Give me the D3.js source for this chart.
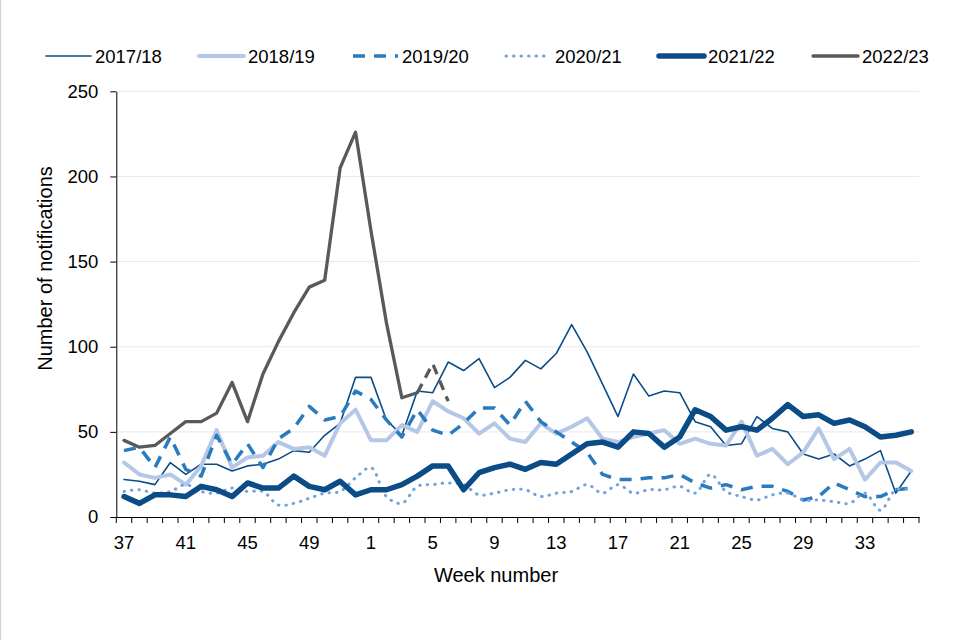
<!DOCTYPE html>
<html><head><meta charset="utf-8">
<script src="https://cdn.jsdelivr.net/npm/d3@7"></script>
<style>
body{margin:0;background:#fff}
svg{display:block}
text{font-family:"Liberation Sans",Arial,sans-serif;fill:#000}
</style></head>
<body><svg id="c" width="960" height="640"></svg>
<script>
const weeks = ["37","38","39","40","41","42","43","44","45","46","47","48","49","50","51","52",
  "1","2","3","4","5","6","7","8","9","10","11","12","13","14","15","16","17","18","19","20",
  "21","22","23","24","25","26","27","28","29","30","31","32","33","34","35","36"];
const xTickLabels = ["37","41","45","49","1","5","9","13","17","21","25","29","33"];
const yTicks = [0,50,100,150,200,250];
const seriesNames = ["2017/18","2018/19","2019/20","2020/21","2021/22","2022/23"];

const s1718 = [22,21,19,32,25,31,31,27,30,31,34,39,38,48,55,82,82,57,48,74,73,91,86,93,76,82,92,87,96,113,97,78,59,84,71,74,73,56,53,42,43,59,52,50,37,34,37,30,34,39,14,27];
const s1819 = [32,25,23,25,19,30,51,29,35,36,44,40,41,36,55,63,45,45,54,50,68,62,58,49,55,46,44,55,49,53,58,46,44,47,49,51,43,46,43,42,56,36,40,31,38,52,34,40,22,32,32,27];
const s1920 = [39,41,29,47,28,24,48,31,43,29,46,52,65,57,59,74,69,57,47,63,51,48,55,64,64,54,68,56,50,44,38,25,22,22,23,23,25,20,17,19,16,18,18,15,10,12,20,16,12,12,16,17];
const s2021 = [15,16,14,15,19,15,14,17,15,15,7,8,11,14,15,23,29,12,8,18,19,20,19,13,14,16,16,12,14,15,19,14,19,14,16,16,18,14,25,15,12,10,13,14,10,10,9,8,14,4,16,16];
const s2122 = [12,8,13,13,12,18,16,12,20,17,17,24,18,16,21,13,16,16,19,24,30,30,16,26,29,31,28,32,31,37,43,44,41,50,49,41,47,63,59,51,53,51,58,66,59,60,55,57,53,47,48,50];
const s2223 = [45,41,42,49,56,56,61,79,56,84,103,120,135,139,205,226,168,114,70,73,90,68];
const s2223SolidEnd = 19; // last solid index, provisional after that

const styles = [
  {color:"#0b4c86", width:1.6, dash:null, cap:"round"},
  {color:"#b4c7e7", width:4, dash:null, cap:"round"},
  {color:"#2a7abe", width:3.5, dash:"12 9", cap:"butt"},
  {color:"#6fa4dd", width:3, dash:"0.5 7", cap:"round", smooth:true},
  {color:"#0b4c86", width:5.5, dash:null, cap:"round"},
  {color:"#595959", width:3.3, dash:null, cap:"round"}
];
const allSeries = [s1718, s1819, s1920, s2021, s2122];

const svg = d3.select("#c");
const x = d3.scaleBand().domain(weeks).range([116.3, 919]).padding(0);
const y = d3.scaleLinear().domain([0,250]).range([517, 91.3]);
const cx = w => x(w) + x.bandwidth()/2;

svg.append("line").attr("x1",0.5).attr("x2",0.5).attr("y1",0).attr("y2",640)
  .attr("stroke","#d4d4d4").attr("stroke-width",1.5);

svg.append("g").selectAll("line").data(yTicks.filter(v=>v>0)).join("line")
  .attr("x1",x.range()[0]).attr("x2",x.range()[1])
  .attr("y1",d=>y(d)).attr("y2",d=>y(d))
  .attr("stroke","#e9e9e9").attr("stroke-width",1);

const ya = svg.append("g").attr("transform","translate(116.3,0)")
  .call(d3.axisLeft(y).tickValues(yTicks).tickSize(6).tickSizeOuter(0).tickPadding(12));
ya.attr("font-family",null).attr("font-size",null);
ya.selectAll("text").style("font-size","18.5px");
ya.selectAll("line,path").attr("stroke","#000");

const xa = svg.append("g").attr("transform","translate(0,517)")
  .call(d3.axisBottom(x).tickValues(xTickLabels).tickSize(0).tickSizeOuter(0).tickPadding(19));
xa.attr("font-family",null).attr("font-size",null);
xa.selectAll("text").style("font-size","18.5px");
xa.select("path").attr("stroke","#000");
const bounds = weeks.map(w=>x(w)).concat([x.range()[1]]);
xa.append("g").selectAll("line").data(bounds).join("line")
  .attr("x1",d=>d).attr("x2",d=>d).attr("y1",0).attr("y2",6).attr("stroke","#000");

const plot = svg.append("g").attr("fill","none").attr("stroke-linejoin","round");
function draw(vals, st, offset, dashOverride){
  const gen = d3.line().x((d,i)=>cx(weeks[i+offset])).y(d=>y(d));
  if(st.smooth) gen.curve(d3.curveCatmullRom.alpha(0.5));
  const p = plot.append("path").attr("d",gen(vals))
    .attr("stroke",st.color).attr("stroke-width",st.width)
    .attr("stroke-linecap",st.cap);
  const dsh = dashOverride || st.dash;
  if(dsh) p.attr("stroke-dasharray",dsh);
}
allSeries.forEach((s,i)=>draw(s, styles[i], 0));
draw(s2223.slice(0, s2223SolidEnd+1), styles[5], 0);
draw(s2223.slice(s2223SolidEnd), {color:"#595959", width:3.3, cap:"butt"}, s2223SolidEnd, "10 7");

svg.append("text").attr("transform","translate(51.5,268.5) rotate(-90)")
  .attr("text-anchor","middle").style("font-size","20px").text("Number of notifications");
svg.append("text").attr("x",496).attr("y",582)
  .attr("text-anchor","middle").style("font-size","20px").text("Week number");

const legTextX = [95,248,402,555,708,862];
const lg = svg.append("g");
seriesNames.forEach((n,i)=>{
  const st = styles[i];
  const l = lg.append("line").attr("x1",legTextX[i]-49).attr("x2",legTextX[i]-4)
    .attr("y1",56).attr("y2",56).attr("stroke",st.color).attr("stroke-width",st.width)
    .attr("stroke-linecap",st.cap);
  if(st.dash) l.attr("stroke-dasharray",st.dash);
  lg.append("text").attr("x",legTextX[i]).attr("y",62.5).style("font-size","18.5px").text(n);
});
</script></body></html>
